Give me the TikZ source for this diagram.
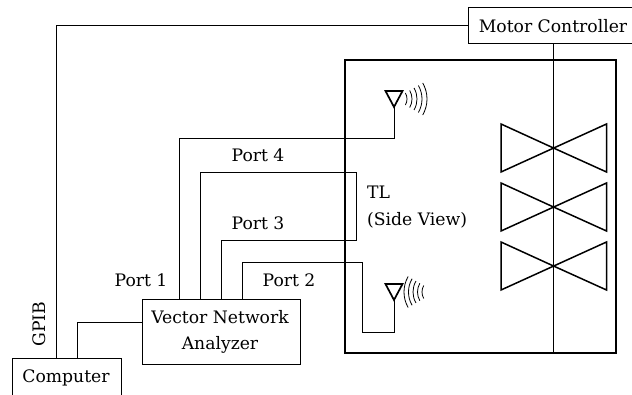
\documentclass[tikz,border=0pt]{standalone}
\usepackage{fontspec}
\setmainfont{DejaVu Serif}
\usetikzlibrary{positioning}
\tikzset{
    boxnode/.style={draw,line width=1pt,inner sep=0pt},
    labelnode/.style={inner sep=0pt,font=\fontsize{17.2}{26.5}\selectfont,align=left},
    cable/.style={draw,line width=1pt},
    wave/.style={draw,line width=0.8pt}
}
\newcommand{\drawAntenna}[3]{
    \draw[line width=1.7pt,line join=miter] (#1-8.5,#2) -- (#1+8.5,#2) -- (#1,#2-16) -- cycle;
    \coordinate (#3) at (#1,#2-16);
}
\newcommand{\drawBowtie}[1]{
    \draw[line width=1.5pt] (553.5,#1) -- (501,#1+24) -- (501,#1-24) -- (606.5,#1+24) -- (606.5,#1-24) -- cycle;
}
\begin{document}
\begin{tikzpicture}[x=1pt,y=1pt]
    \useasboundingbox (0,0) rectangle (632,394);
    \path[clip] (0,0) rectangle (632,394);
    % boxes
    \node[boxnode,minimum width=176,minimum height=36] (motor) at (556,368.5) {};
    \node[labelnode,anchor=base] (motorlabel) at (553,361) {Motor Controller};
    \node[boxnode,minimum width=109,minimum height=46] (computer) at (66.5,13) {};
    \node[labelnode,anchor=base] (computerlabel) at (66,12) {Computer};
    \node[boxnode,minimum width=158,minimum height=65] (vna) at (221,62.5) {};
    \node[labelnode,align=center] (vnalabel) at (220,62) {Vector Network\\Analyzer};
    \draw[line width=2pt] (345,41) rectangle (616,334);
    % shaft
    \draw[line width=1pt] (motor.south -| 553.5,0) -- (553.5,334);
    \draw[line width=1.8pt] (553.5,334) -- (553.5,41);
    \drawBowtie{246}
    \drawBowtie{187}
    \drawBowtie{128}
    % antennas
    \drawAntenna{394}{303}{anttop}
    \drawAntenna{394}{110}{antbot}
    \foreach \r in {12,17,22,27,32} {
        \draw[wave] (395,295) ++(-30:\r) arc[start angle=-30,end angle=30,radius=\r];
    }
    \foreach \r in {13,17.5,22,26.5,31} {
        \draw[wave] (435,102) ++(150:\r) arc[start angle=150,end angle=210,radius=\r];
    }
    % cables
    \draw[cable] (computer.north -| 56.5,0) -- (56.5,368) -- (motor.west |- 0,368);
    \draw[cable] (computer.north -| 77.5,0) -- (77.5,72) -- (vna.west |- 0,72);
    \draw[cable] (vna.north -| 179,0) -- (179,255) -- (394,255) -- (anttop);
    \draw[cable] (vna.north -| 200,0) -- (200,221) -- (356,221) -- (356,153) -- (221,153) -- (vna.north -| 221,0);
    \draw[cable] (vna.north -| 242,0) -- (242,131) -- (362,131) -- (362,62) -- (394,62) -- (antbot);
    % labels
    \node[labelnode,anchor=base] (port1) at (141,107) {Port 1};
    \node[labelnode,anchor=base] (port2) at (289,107) {Port 2};
    \node[labelnode,anchor=base] (port3) at (258,164) {Port 3};
    \node[labelnode,anchor=base] (port4) at (258,232) {Port 4};
    \node[labelnode,anchor=west] (tllabel) at (367,187) {TL\\(Side View)};
    \node[labelnode,rotate=90,anchor=base] (gpib) at (45,70) {GPIB};
\end{tikzpicture}
\end{document}
